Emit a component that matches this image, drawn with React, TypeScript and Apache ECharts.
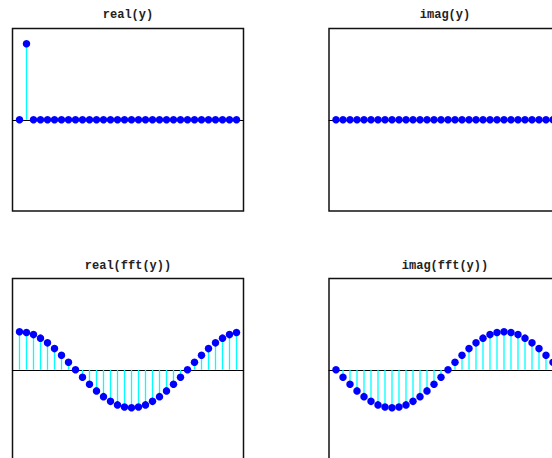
import React, { useEffect, useRef } from "react";
import * as echarts from "echarts";

const indices = [0, 1, 2, 3, 4, 5, 6, 7, 8, 9, 10, 11, 12, 13, 14, 15, 16, 17, 18, 19, 20, 21, 22, 23, 24, 25, 26, 27, 28, 29, 30, 31];

const realY = [0, 1, 0, 0, 0, 0, 0, 0, 0, 0, 0, 0, 0, 0, 0, 0, 0, 0, 0, 0, 0, 0, 0, 0, 0, 0, 0, 0, 0, 0, 0, 0];
const imagY = [0, 0, 0, 0, 0, 0, 0, 0, 0, 0, 0, 0, 0, 0, 0, 0, 0, 0, 0, 0, 0, 0, 0, 0, 0, 0, 0, 0, 0, 0, 0, 0];
const realFft = [1, 0.981, 0.924, 0.831, 0.707, 0.556, 0.383, 0.195, 0, -0.195, -0.383, -0.556, -0.707, -0.831, -0.924, -0.981, -1, -0.981, -0.924, -0.831, -0.707, -0.556, -0.383, -0.195, 0, 0.195, 0.383, 0.556, 0.707, 0.831, 0.924, 0.981];
const imagFft = [0, -0.195, -0.383, -0.556, -0.707, -0.831, -0.924, -0.981, -1, -0.981, -0.924, -0.831, -0.707, -0.556, -0.383, -0.195, 0, 0.195, 0.383, 0.556, 0.707, 0.831, 0.924, 0.981, 1, 0.981, 0.924, 0.831, 0.707, 0.556, 0.383, 0.195];

const titles = ["real(y)", "imag(y)", "real(fft(y))", "imag(fft(y))"];
const panels = [realY, imagY, realFft, imagFft];
const yLimits = [1.2, 1.2, 2.4, 2.4];

export default function App() {
  const ref = useRef<HTMLDivElement>(null);
  useEffect(() => {
    if (!ref.current) return;
    const chart = echarts.init(ref.current, undefined, { renderer: "svg" });
    const gridPos = [
      { left: 12.5, top: 28.5 },
      { left: 329, top: 28.5 },
      { left: 12.5, top: 278.5 },
      { left: 329, top: 278.5 },
    ];
    const grids = gridPos.map((g) => ({
      left: g.left,
      top: g.top,
      width: 231,
      height: 182.5,
      outerBoundsMode: "none",
      containLabel: false,
      show: true,
      borderColor: "#111",
      borderWidth: 1.5,
      backgroundColor: "#fff",
    }));
    const xAxes = gridPos.map((_, i) => ({
      type: "value",
      gridIndex: i,
      min: -1,
      max: 32,
      axisLine: { show: true, onZero: true, lineStyle: { color: "#000", width: 1 } },
      axisTick: { show: false },
      axisLabel: { show: false },
      splitLine: { show: false },
    }));
    const yAxes = gridPos.map((_, i) => ({
      type: "value",
      gridIndex: i,
      min: -yLimits[i],
      max: yLimits[i],
      axisLine: { show: false },
      axisTick: { show: false },
      axisLabel: { show: false },
      splitLine: { show: false },
    }));
    const series: any[] = [];
    panels.forEach((vals, i) => {
      const data = indices.map((k, j) => [k, vals[j]]);
      series.push({
        type: "custom",
        xAxisIndex: i,
        yAxisIndex: i,
        z: 2,
        data,
        renderItem: (params: any, api: any) => {
          const p0 = api.coord([api.value(0), 0]);
          const p1 = api.coord([api.value(0), api.value(1)]);
          return {
            type: "line",
            shape: { x1: p0[0], y1: p0[1], x2: p1[0], y2: p1[1] },
            style: { stroke: "#00ffff", lineWidth: 1.3 },
          };
        },
      });
      series.push({
        type: "scatter",
        xAxisIndex: i,
        yAxisIndex: i,
        z: 5,
        symbol: "circle",
        symbolSize: 7.5,
        itemStyle: { color: "#0000ff", opacity: 1 },
        data,
      });
    });
    const centers = [
      [128, 15],
      [445, 15],
      [128, 265.5],
      [445, 265.5],
    ];
    const graphic = titles.map((t, i) => ({
      type: "text",
      x: centers[i][0],
      y: centers[i][1],
      style: {
        text: t,
        fill: "#222",
        font: "bold 12px 'Liberation Mono', 'DejaVu Sans Mono', monospace",
        textAlign: "center",
        textVerticalAlign: "middle",
      },
    }));
    chart.setOption({
      animation: false,
      backgroundColor: "#fff",
      grid: grids,
      xAxis: xAxes,
      yAxis: yAxes,
      series,
      graphic,
    });
    return () => chart.dispose();
  }, []);
  return (
    <div
      ref={ref}
      style={{ position: "fixed", left: 0, top: 0, width: 552, height: 458 }}
    />
  );
}
